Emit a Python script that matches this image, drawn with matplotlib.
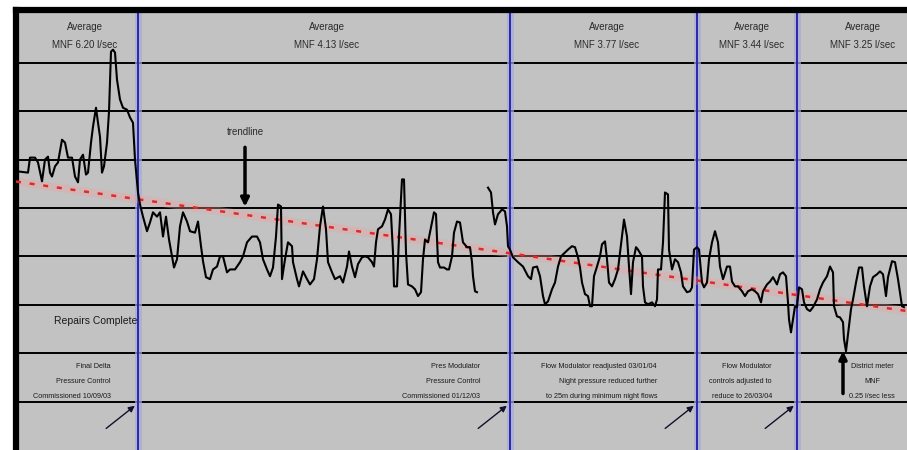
import numpy as np
import matplotlib
matplotlib.use("Agg")
import matplotlib.pyplot as plt

plt.rcParams['font.family'] = ['Liberation Sans', 'DejaVu Sans']

# daily minimum night flow readings (day number, l/sec); nan = no reading
days = [1, 5, 6, 8.5, 10, 12, 13.5, 15, 16, 17, 18.5, 20, 22, 23.5, 25, 27, 28.5, 30, 31, 32.5,
        34, 35, 36.5, 37.5, 39, 40, 41, 42, 43, 44.5, 45.5, 46.5, 47.5, 48.5, 49.5, 51, 52.5, 54.5,
        56, 57.5, 58.5, 60, 61, 62.5, 64.5, 66, 67.5, 69.5, 71, 72.5, 74, 75.5, 77, 78, 79.5, 81,
        82.5, 84.5, 86, 88.5, 90, 91.5, 92.5, 94, 96, 97.5, 99.5, 101, 102.5, 104.5, 106, 108.5,
        111, 112.5, 114.5, 117, 119.5, 121, 122.5, 124.5, 126, 127.5, 129, 130, 131.5, 132, 133.5,
        135, 137, 137.5, 139.5, 140.5, 142.5, 144.5, 146, 148, 149.5, 151, 152.5, 154, 155, 157,
        158.5, 161, 162.5, 164.5, 165.5, 167, 168.5, 170, 172, 173.5, 175, 177, 178, 179, 180, 182,
        183.5, 185, 186.5, 187.5, 188, 189.5, 190.5, 192, 193, 194, 195, 197, 198.5, 200, 201.5,
        202.5, 203.5, 205, 207, 208, 209, 210, 211, 213, 214.5, 215.5, 217, 218, 219.5, 221, 222.5,
        224.5, 226, 227, 227.5, 228.5, 229.5, 233, 235, 236.5, 237.5, 238.5, 240, 242, 243.5, 244.5,
        245, 246, 247.5, 250, 252.5, 255, 256.5, 257.5, 259.5, 261, 262.5, 263.5, 265, 267, 268.5,
        270, 271.5, 273.5, 275, 277, 278.5, 280, 281, 282, 283.5, 285, 286, 287, 288, 289.5, 291,
        292, 293.5, 294.5, 295.5, 297, 298.5, 300, 302, 303, 304.5, 305.5, 306.5, 307.5, 309, 310,
        312, 312.5, 313.5, 315, 317, 318.5, 319.5, 320, 321.5, 322.5, 323.5, 325, 325.5, 327, 328.5,
        330, 331.5, 332.5, 334.5, 336, 337, 338, 339.5, 340.5, 342, 343, 344.5, 345.5, 347, 348.5,
        350, 351, 352.5, 353, 354.5, 356, 357, 358.5, 360, 362, 363.5, 365, 367, 368.5, 370, 371.5,
        372.5, 374.5, 376, 377.5, 379.5, 381, 382.5, 384, 385, 385.5, 386.5, 387.5, 388.5, 389.5,
        390.5, 392, 393, 394.5, 396, 397.5, 399.5, 401, 402.5, 404.5, 406, 407.5, 408, 409.5, 411,
        412.5, 413, 414, 415, 416.5, 417.5, 419, 420.5, 422, 423, 424.5, 426, 427.5, 429.5, 431,
        432.5, 434, 435, 437, 438.5, 440, 442, 443]
mnf = [5.75, 5.73, 6.04, 6.04, 5.94, 5.55, 6.00, 6.06, 5.73, 5.65, 5.86, 5.94, 6.41, 6.35, 6.04, 6.04,
       5.65, 5.53, 6.00, 6.10, 5.69, 5.73, 6.35, 6.68, 7.07, 6.76, 6.47, 5.73, 5.86, 6.35, 6.99, 8.23,
       8.27, 8.21, 7.65, 7.24, 7.07, 7.03, 6.87, 6.76, 6.00, 5.32, 5.07, 4.82, 4.52, 4.70, 4.91, 4.82,
       4.91, 4.41, 4.82, 4.35, 4.00, 3.77, 3.94, 4.62, 4.91, 4.72, 4.52, 4.49, 4.72, 4.21, 3.90, 3.57,
       3.53, 3.73, 3.79, 4.00, 4.00, 3.67, 3.73, 3.73, 3.88, 4.00, 4.29, 4.41, 4.41, 4.29, 3.94, 3.73,
       3.59, 3.77, 4.41, 5.07, 5.03, 3.53, 3.94, 4.29, 4.21, 3.88, 3.53, 3.38, 3.69, 3.53, 3.42, 3.53,
       3.94, 4.62, 5.03, 4.56, 3.88, 3.67, 3.53, 3.59, 3.46, 3.79, 4.10, 3.79, 3.57, 3.84, 3.98, 4.00,
       3.98, 3.88, 3.79, 4.29, 4.56, 4.62, 4.76, 4.97, 4.87, 4.08, 3.38, 3.38, 4.41, 5.59, 5.59, 4.08,
       3.42, 3.38, 3.32, 3.18, 3.26, 3.94, 4.35, 4.29, 4.70, 4.91, 4.87, 3.88, 3.77, 3.77, 3.73, 3.73,
       4.00, 4.49, 4.72, 4.70, 4.29, 4.19, 4.19, 3.88, 3.59, 3.28, 3.26, np.nan, 5.42, 5.32, 4.91,
       4.66, 4.87, 4.97, 4.93, 4.62, 4.21, 4.14, 3.98, 3.88, 3.79, 3.59, 3.53, 3.77, 3.79, 3.59, 3.18,
       3.01, 3.07, 3.32, 3.46, 3.79, 4.00, 4.08, 4.14, 4.21, 4.19, 3.98, 3.77, 3.46, 3.22, 3.18, 2.97,
       2.97, 3.59, 3.79, 4.00, 4.25, 4.31, 3.94, 3.46, 3.38, 3.53, 3.73, 4.41, 4.76, 4.41, 3.79, 3.22,
       3.88, 4.19, 4.14, 4.00, 3.38, 3.05, 3.01, 3.05, 2.97, 3.11, 3.73, 3.73, 4.29, 5.32, 5.28, 4.14,
       3.73, 3.94, 3.88, 3.67, 3.38, 3.26, 3.28, 3.36, 4.14, 4.19, 4.14, 3.46, 3.36, 3.46, 3.94, 4.29,
       4.52, 4.29, 3.79, 3.53, 3.59, 3.79, 3.79, 3.48, 3.38, 3.38, 3.28, 3.18, 3.28, 3.32, 3.28, 3.22,
       3.05, 3.28, 3.42, 3.48, 3.57, 3.42, 3.63, 3.67, 3.59, 3.05, 2.70, 2.43, 2.70, 2.97, 2.95, 3.36,
       3.32, 3.05, 2.91, 2.87, 2.95, 3.11, 3.32, 3.46, 3.59, 3.79, 3.67, 2.97, 2.76, 2.74, 2.64, 2.29,
       2.04, 2.39, 2.91, 3.11, 3.46, 3.77, 3.77, 3.38, 2.97, 3.38, 3.57, 3.63, 3.69, 3.63, 3.18, 3.57,
       3.90, 3.88, 3.53, 2.97, 2.95]

# period boundaries (day) and average MNF of each period
boundaries = [60, 246, 339.5, 389.5]
period_centres = [33.5, 154.5, 294.5, 367, 422.5]
period_avg = ["6.20", "4.13", "3.77", "3.44", "3.25"]

# event notes at the bottom of the chart
event_notes = [
    ["Final Delta", "Pressure Control", "Commissioned 10/09/03"],
    ["Pres Modulator", "Pressure Control", "Commissioned 01/12/03"],
    ["Flow Modulator readjusted 03/01/04", "Night pressure reduced further", "to 25m during minimum night flows"],
    ["Flow Modulator", "controls adjusted to", "reduce to 26/03/04"],
]
event_note_x = [46.5, 231, 319.5, 377]
last_note = ["District meter", "MNF", "0.25 l/sec less"]

days_a = np.array(days, dtype=float)
mnf_a = np.array(mnf, dtype=float)

fig = plt.figure(figsize=(9.07, 4.5), dpi=100)
fig.patch.set_facecolor('white')
ax = fig.add_axes([16 / 907, 0.0, 1 - 16 / 907, 440.5 / 450])
ax.set_facecolor('#c2c2c2')
ax.set_xlim(-1, 444.5)
ax.set_ylim(0, 9.1)

for s in ['right', 'bottom']:
    ax.spines[s].set_visible(False)
for s in ['left', 'top']:
    ax.spines[s].set_linewidth(4.5)
    ax.spines[s].set_color('black')
ax.set_xticks([])
ax.set_yticks([])

# horizontal grid
for g in range(1, 9):
    ax.axhline(g, color='black', lw=1.4, zorder=1)

# period boundaries
for b in boundaries:
    ax.axvline(b, color='#a8a8dc', lw=5, alpha=0.7, zorder=1)
    ax.axvline(b, color='#2828b0', lw=1.4, zorder=2)

# linear trendline through the readings
ok = ~np.isnan(mnf_a)
k, c = np.polyfit(days_a[ok], mnf_a[ok], 1)
tx = np.array([-1, 444.5])
ax.plot(tx, k * tx + c, color='#f0a0a0', lw=6, alpha=0.35, zorder=2)
ax.plot(tx, k * tx + c, color='#e02a2a', lw=1.8, ls=(0, (2, 3.5)), zorder=3)

ax.plot(days_a, mnf_a, color='black', lw=1.5, zorder=4)

# period headers
for xc, avg in zip(period_centres, period_avg):
    ax.text(xc, 8.74, "Average", ha='center', va='center', fontsize=7, color='#2a2a2a')
    ax.text(xc, 8.37, "MNF " + avg + " l/sec", ha='center', va='center', fontsize=7, color='#2a2a2a')

ax.text(113.5, 6.56, "trendline", ha='center', va='center', fontsize=7, color='#2a2a2a')
ax.annotate("", xy=(113.5, 4.97), xytext=(113.5, 6.31),
            arrowprops=dict(arrowstyle='-|>', color='black', lw=2.5, mutation_scale=12), zorder=6)

ax.text(59.5, 2.66, "Repairs Complete", ha='right', va='center', fontsize=7.5, color='#1a1a1a')

note_y = [1.73, 1.42, 1.11]
for xr, lines in zip(event_note_x, event_notes):
    for yy, t in zip(note_y, lines):
        ax.text(xr, yy, t, ha='right', va='center', fontsize=5.2, color='#1a1a1a')
for yy, t in zip(note_y, last_note):
    ax.text(427, yy, t, ha='center', va='center', fontsize=5.2, color='#1a1a1a')

# arrows pointing at the boundary lines
for b in boundaries:
    ax.annotate("", xy=(b - 0.5, 0.95), xytext=(b - 17, 0.41),
                arrowprops=dict(arrowstyle='-|>', color='#101030', lw=1.0, mutation_scale=9), zorder=6)
ax.annotate("", xy=(412.5, 2.10), xytext=(412.5, 1.11),
            arrowprops=dict(arrowstyle='-|>', color='black', lw=2.5, mutation_scale=11), zorder=6)

fig.savefig("out.png", dpi=100, facecolor='white')
